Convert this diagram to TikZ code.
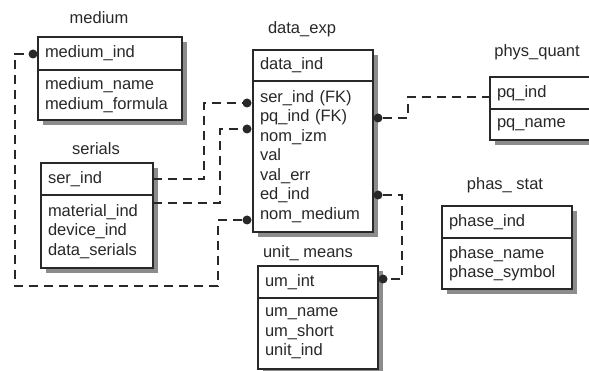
\documentclass[tikz,border=0pt]{standalone}
\usepackage{fontspec}
\setmainfont{Liberation Sans}
\usetikzlibrary{positioning,backgrounds}
\definecolor{ink}{RGB}{40,40,40}
\definecolor{shadowc}{RGB}{140,140,140}
\hyphenpenalty=10000

\begin{document}
\begin{tikzpicture}[
  x=1pt, y=-1pt,
  every node/.style={font=\fontsize{16.5}{19.5}\selectfont, text=ink},
  tbl/.style={draw=ink, line width=1.2pt, fill=white, align=left,
              inner xsep=7pt, inner ysep=0pt, outer sep=0pt},
  shadowbox/.style={fill=shadowc},
  dot/.style={circle, fill=ink, inner sep=0pt, minimum size=9pt},
  rel/.style={draw=ink, line width=1.2pt, dash pattern=on 9pt off 6pt}
]
\path[use as bounding box] (0,0) rectangle (589,371);
\clip (0,0) rectangle (589,371);

% Tables
\node (medium-title) at (99,18) {medium};
\node[tbl, text width=130pt, minimum height=33pt, anchor=north west]
  (medium-key) at (38,37) {medium\_ind};
\node[tbl, text width=130pt, minimum height=50pt, below=0pt of medium-key]
  (medium-attr) {medium\_name\\medium\_formula};

\node (serials-title) at (96,149) {serials};
\node[tbl, text width=98pt, minimum height=32pt, anchor=north west]
  (serials-key) at (41,163) {ser\_ind};
\node[tbl, text width=98pt, minimum height=73pt, below=0pt of serials-key]
  (serials-attr) {material\_ind\\device\_ind\\data\_serials};

\node (dexp-title) at (302,29) {data\_exp};
\node[tbl, text width=106pt, minimum height=31pt, anchor=north west]
  (dexp-key) at (253,50) {data\_ind};
\node[tbl, text width=106pt, minimum height=151pt, below=0pt of dexp-key]
  (dexp-attr) {ser\_ind (FK)\\pq\_ind (FK)\\nom\_izm\\val\\val\_err\\ed\_ind\\nom\_medium};

\node (phys-title) at (537,52) {phys\_quant};
\node[tbl, text width=96pt, minimum height=32pt, anchor=north west]
  (phys-key) at (490,77) {pq\_ind};
\node[tbl, text width=96pt, minimum height=31pt, below=0pt of phys-key]
  (phys-attr) {pq\_name};

\node (phas-title) at (505,185) {phas\_ stat};
\node[tbl, text width=116pt, minimum height=32pt, anchor=north west]
  (phas-key) at (442,206) {phase\_ind};
\node[tbl, text width=116pt, minimum height=51pt, below=0pt of phas-key]
  (phas-attr) {phase\_name\\phase\_symbol};

\node (unit-title) at (308,253) {unit\_ means};
\node[tbl, text width=106pt, minimum height=32pt, anchor=north west]
  (unit-key) at (258,266) {um\_int};
\node[tbl, text width=106pt, minimum height=71pt, below=0pt of unit-key]
  (unit-attr) {um\_name\\um\_short\\unit\_ind};

% Relationship ends
\node[dot] (m-dot) at (33,54) {};
\node[dot] (d-ser) at (247,103) {};
\node[dot] (d-pq) at (247,129) {};
\node[dot] (d-nom) at (247,220) {};
\node[dot] (d-pqr) at (378,118) {};
\node[dot] (d-ed) at (378,195) {};
\node[dot] (u-dot) at (383,279) {};

\begin{scope}[on background layer]
% Shadows
\foreach \t in {medium,serials,dexp,phys,phas,unit}
  \fill[shadowbox] ([xshift=5pt,yshift=-5pt]\t-key.north west)
    rectangle ([xshift=5pt,yshift=-5pt]\t-attr.south east);
% Relationships
\draw[rel] (d-nom) -- ++(-29,0) |- ++(-203,66) |- (m-dot);
\draw[rel] (serials-key.east) -- ++(51,0) |- (d-ser);
\draw[rel] ([yshift=-8pt]serials-attr.north east) -- ++(67,0) |- (d-pq);
\draw[rel] (d-pqr) -- ++(30,0) |- ([yshift=-4pt]phys-key.west);
\draw[rel] (d-ed) -- ++(24,0) |- (u-dot);
\end{scope}

\end{tikzpicture}
\end{document}
